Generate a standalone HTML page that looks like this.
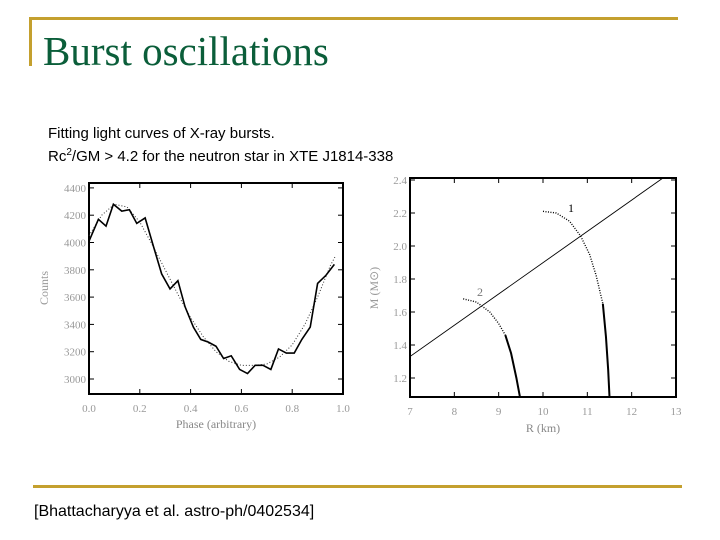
<!DOCTYPE html>
<html><head><meta charset="utf-8"><style>
body{margin:0;background:#fff;}
#page{position:relative;width:720px;height:540px;overflow:hidden;background:#fff;font-family:"Liberation Sans",sans-serif;}
.t{position:absolute;white-space:nowrap;}
</style></head><body>
<div id="page">
<div style="position:absolute;left:29px;top:17px;width:649px;height:3px;background:#c4a02e"></div>
<div style="position:absolute;left:29px;top:17px;width:3px;height:49px;background:#c4a02e"></div>
<div class="t" style="left:43px;top:27px;font-family:'Liberation Serif',serif;font-size:41px;color:#0b5e3a;">Burst oscillations</div>
<div class="t" style="left:48px;top:124px;font-size:15px;line-height:19px;color:#000">Fitting light curves of X-ray bursts.<br>Rc<sup style="font-size:10px">2</sup>/GM &gt; 4.2 for the neutron star in XTE J1814-338</div>
<div style="position:absolute;left:33px;top:485px;width:649px;height:3px;background:#c4a02e"></div>
<div class="t" style="left:34px;top:503px;font-size:16px;color:#000">[Bhattacharyya et al. astro-ph/0402534]</div>
<svg id="svg" width="720" height="540" style="position:absolute;left:0;top:0"></svg>
</div>
<script>
const phase=[0,0.037,0.067,0.096,0.129,0.159,0.188,0.221,0.254,0.286,0.319,0.35,0.378,0.411,0.44,0.47,0.5,0.53,0.56,0.593,0.624,0.654,0.685,0.716,0.746,0.777,0.808,0.838,0.871,0.9,0.933,0.966];
const counts=[4010,4170,4120,4280,4230,4240,4140,4180,3970,3770,3660,3720,3530,3380,3290,3270,3240,3150,3170,3070,3040,3100,3100,3070,3220,3190,3190,3290,3380,3700,3760,3840];
const modelPhase=[0,0.05,0.1,0.15,0.2,0.25,0.3,0.35,0.4,0.45,0.5,0.55,0.6,0.65,0.7,0.75,0.8,0.85,0.9,0.95,0.97];
const modelCounts=[4050,4200,4280,4260,4150,3980,3800,3620,3450,3310,3200,3130,3100,3100,3110,3160,3250,3400,3600,3830,3900];
const countTicks=[3000,3200,3400,3600,3800,4000,4200,4400];
const phaseTicks=[0,0.2,0.4,0.6,0.8,1.0];
const lineR=[7,12.8];const lineM=[1.33,2.43];
const c1R=[10,10.3,10.6,10.85,11.05,11.2,11.35];const c1M=[2.21,2.2,2.15,2.06,1.95,1.82,1.65];
const c1sR=[11.35,11.42,11.47,11.5];const c1sM=[1.65,1.45,1.25,1.085];
const c2R=[8.2,8.5,8.8,9.0,9.15];const c2M=[1.68,1.66,1.6,1.53,1.46];
const c2sR=[9.15,9.28,9.4,9.48];const c2sM=[1.46,1.35,1.2,1.085];
const mTicks=[1.2,1.4,1.6,1.8,2.0,2.2,2.4];const rTicks=[7,8,9,10,11,12,13];
const svg=document.getElementById('svg');const NS='http://www.w3.org/2000/svg';
function mk(t,a,p){const e=document.createElementNS(NS,t);for(const k in a)e.setAttribute(k,a[k]);(p||svg).appendChild(e);return e;}
// left chart
const L={x0:89,x1:343,y0:394,y1:183};
const lx=v=>89+v*(343-89);const ly=v=>379-(v-3000)/200*27.3;
let f=mk('rect',{x:L.x0,y:L.y1,width:L.x1-L.x0,height:L.y0-L.y1,fill:'none',stroke:'#000','stroke-width':2});

countTicks.forEach(v=>{const y=ly(v);mk('line',{x1:L.x0,x2:L.x0+5,y1:y,y2:y,stroke:'#000'});mk('line',{x1:L.x1,x2:L.x1-5,y1:y,y2:y,stroke:'#000'});
 const t=mk('text',{x:L.x0-3,y:y+4,'text-anchor':'end','font-size':11,fill:'#999','font-family':'Liberation Serif,serif'});t.textContent=v;
 });
phaseTicks.forEach(v=>{const x=lx(v);mk('line',{x1:x,x2:x,y1:L.y0,y2:L.y0-5,stroke:'#000'});mk('line',{x1:x,x2:x,y1:L.y1,y2:L.y1+5,stroke:'#000'});
 const t=mk('text',{x:x,y:412,'text-anchor':'middle','font-size':11,fill:'#999','font-family':'Liberation Serif,serif'});t.textContent=v.toFixed(1);
 });
let t=mk('text',{x:216,y:428,'text-anchor':'middle','font-size':12,fill:'#888','font-family':'Liberation Serif,serif'});t.textContent='Phase (arbitrary)';

t=mk('text',{x:48,y:288,'text-anchor':'middle','font-size':12,fill:'#999','font-family':'Liberation Serif,serif',transform:'rotate(-90 48 288)'});t.textContent='Counts';

let p=mk('polyline',{points:modelPhase.map((v,i)=>lx(v)+','+ly(modelCounts[i])).join(' '),fill:'none',stroke:'#333','stroke-width':1,'stroke-dasharray':'1,2'});

p=mk('polyline',{points:phase.map((v,i)=>lx(v)+','+ly(counts[i])).join(' '),fill:'none',stroke:'#000','stroke-width':1.6});

// right chart
const R={x0:410,x1:676,y0:397,y1:178};
const rx=v=>410+(v-7)*(676-410)/6;const ry=v=>378-(v-1.2)/0.2*33;
mk('clipPath',{id:'cr'});const cp=svg.lastChild;mk('rect',{x:R.x0,y:R.y1,width:R.x1-R.x0,height:R.y0-R.y1},cp);
f=mk('rect',{x:R.x0,y:R.y1,width:R.x1-R.x0,height:R.y0-R.y1,fill:'none',stroke:'#000','stroke-width':2});

mTicks.forEach(v=>{const y=ry(v);mk('line',{x1:R.x0,x2:R.x0+5,y1:y,y2:y,stroke:'#000'});mk('line',{x1:R.x1,x2:R.x1-5,y1:y,y2:y,stroke:'#000'});
 const t=mk('text',{x:R.x0-3,y:y+4,'text-anchor':'end','font-size':11,fill:'#999','font-family':'Liberation Serif,serif'});t.textContent=v.toFixed(1);
 });
rTicks.forEach(v=>{const x=rx(v);mk('line',{x1:x,x2:x,y1:R.y0,y2:R.y0-5,stroke:'#000'});mk('line',{x1:x,x2:x,y1:R.y1,y2:R.y1+5,stroke:'#000'});
 const t=mk('text',{x:x,y:415,'text-anchor':'middle','font-size':11,fill:'#999','font-family':'Liberation Serif,serif'});t.textContent=v;
 });
t=mk('text',{x:543,y:432,'text-anchor':'middle','font-size':12,fill:'#888','font-family':'Liberation Serif,serif'});t.textContent='R (km)';

t=mk('text',{x:378,y:288,'text-anchor':'middle','font-size':12,fill:'#999','font-family':'Liberation Serif,serif',transform:'rotate(-90 378 288)'});t.textContent='M (M\u2299)';

p=mk('polyline',{points:lineR.map((v,i)=>rx(v)+','+ry(lineM[i])).join(' '),fill:'none',stroke:'#000','stroke-width':0.9,'clip-path':'url(#cr)'});

[[c1R,c1M,'curve-1-dotted'],[c2R,c2M,'curve-2-dotted']].forEach(c=>{const q=mk('polyline',{points:c[0].map((v,i)=>rx(v)+','+ry(c[1][i])).join(' '),fill:'none',stroke:'#000','stroke-width':1.4,'stroke-dasharray':'1,1.5'});
 });
[[c1sR,c1sM,'curve-1-solid'],[c2sR,c2sM,'curve-2-solid']].forEach(c=>{const q=mk('polyline',{points:c[0].map((v,i)=>rx(v)+','+ry(c[1][i])).join(' '),fill:'none',stroke:'#000','stroke-width':2});
 });
t=mk('text',{x:568,y:212,'font-size':12,fill:'#000','font-family':'Liberation Serif,serif'});t.textContent='1';

t=mk('text',{x:477,y:296,'font-size':12,fill:'#777','font-family':'Liberation Serif,serif'});t.textContent='2';

</script>
</body></html>
